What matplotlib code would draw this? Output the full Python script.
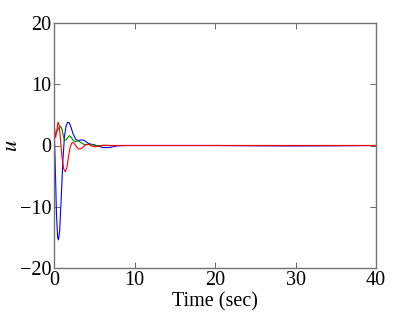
import matplotlib
matplotlib.use("Agg")
import matplotlib.pyplot as plt

t_blue = [0, 0.15, 0.3, 0.45, 0.55, 0.7, 0.9, 1.1, 1.3, 1.5, 1.7, 1.9, 2.1, 2.4, 2.7, 3.0, 3.3, 3.6, 3.9, 4.2, 4.6, 5.0, 5.5, 6.0, 6.5, 7.0, 7.5, 8.0, 9.0, 12, 20, 25, 30, 35, 40]
u_blue = [3.7, -3.0, -11.0, -15.0, -15.4, -14.0, -8.5, -2.5, 1.5, 3.2, 3.8, 3.7, 3.0, 1.8, 1.0, 0.8, 0.9, 0.9, 0.7, 0.4, 0.2, 0.1, -0.1, -0.3, -0.35, -0.3, -0.15, -0.05, 0.0, 0.0, 0.0, -0.05, -0.08, -0.05, 0.0]

t_red = [0, 0.1, 0.2, 0.35, 0.5, 0.65, 0.8, 1.0, 1.2, 1.4, 1.6, 1.8, 2.0, 2.2, 2.4, 2.7, 3.0, 3.2, 3.5, 3.9, 4.3, 4.7, 5.1, 5.6, 6.2, 7.0, 8.0, 10, 20, 30, 40]
u_red = [3.6, 2.5, 1.3, 2.5, 3.8, 3.3, 1.0, -2.0, -3.8, -4.3, -3.6, -1.8, -0.3, 0.4, 0.5, 0.0, -0.5, -0.6, -0.4, 0.1, 0.2, -0.1, -0.2, -0.05, 0.05, 0.0, 0.0, 0.0, 0.0, 0.0, 0.0]

t_green = [0, 0.2, 0.4, 0.6, 0.85, 1.0, 1.15, 1.3, 1.5, 1.7, 1.9, 2.1, 2.4, 2.7, 3.0, 3.3, 3.7, 4.1, 4.5, 5.0, 5.5, 6.0, 7.0, 10, 20, 30, 40]
u_green = [1.2, 1.8, 2.4, 2.9, 3.1, 2.6, 1.6, 0.9, 0.9, 1.3, 1.6, 1.4, 0.8, 0.6, 0.8, 0.5, 0.2, 0.15, 0.2, 0.05, -0.05, 0.0, 0.0, 0.0, 0.0, 0.0, 0.0]

xticks = [0, 10, 20, 30, 40]
yticks = [-20, -10, 0, 10, 20]

plt.rcParams['font.family'] = ['Liberation Serif', 'DejaVu Serif']
plt.rcParams['mathtext.fontset'] = 'stix'

fig = plt.figure(figsize=(4.15, 3.12), dpi=100)
ax = fig.add_axes([54/415, 1 - 268/312, (376-54)/415, (268-23)/312])

ax.plot(t_blue, u_blue, color='#0000ff', lw=0.8)
ax.plot(t_green, u_green, color='#008000', lw=0.8)
ax.plot(t_red, u_red, color='#ff0000', lw=0.8)

ax.set_xlim(0, 40)
ax.set_ylim(-20, 20)
ax.set_xticks(xticks)
ax.set_yticks(yticks)
ax.set_xticklabels([str(v) for v in xticks])
ax.set_yticklabels([str(v).replace('-', '\u2212') for v in yticks])
ax.tick_params(direction='in', top=True, right=True, length=4, width=0.6, labelsize=14.5, pad=2, colors='0.3', labelcolor='black')
for s in ax.spines.values():
    s.set_color('0.45')
    s.set_linewidth(1.0)
ax.set_xlabel('Time (sec)', fontsize=14.5)
ax.set_ylabel('$u$', fontsize=16)
ax.xaxis.set_label_coords(0.5, -0.10)
ax.yaxis.set_label_coords(-0.10, 0.5)

fig.savefig('out.png', dpi=100)
